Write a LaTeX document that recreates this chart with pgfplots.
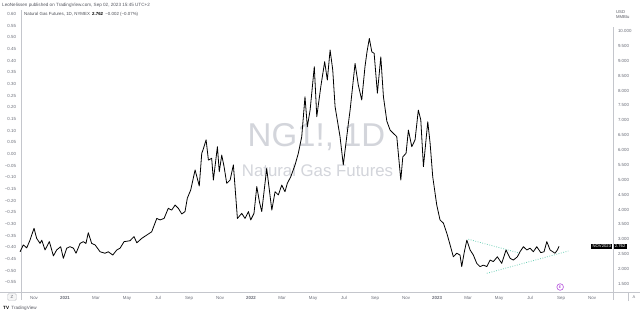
\documentclass[border=0pt]{standalone}
\usepackage{pgfplots}
\pgfplotsset{compat=1.18}
\usepackage{fontspec}
\setmainfont{Liberation Sans}
\definecolor{tvgray}{HTML}{6A6D78}
\definecolor{tvline}{HTML}{C4C6CC}
\definecolor{wm}{HTML}{D3D5DB}
\definecolor{trend}{HTML}{6FD0B8}
\definecolor{evpurple}{HTML}{B44FDC}
\newcommand{\tk}{\fontsize{4.4bp}{5bp}\selectfont}
\begin{document}
\begin{tikzpicture}[x=1bp,y=1bp]
\fill[white] (0,0) rectangle (640,314);
\path[use as bounding box] (0,0) rectangle (640,314);
% watermark
\node[anchor=base, text=wm, font=\fontsize{33bp}{33bp}\selectfont, inner sep=0] at (316.5,168) {NG1!, 1D};
\node[anchor=base, text=wm, font=\fontsize{16.8bp}{17bp}\selectfont, inner sep=0] at (317.5,138) {Natural Gas Futures};
% frame lines
\draw[tvline, line width=0.6bp] (0,22) -- (640,22);
\draw[tvline, line width=0.6bp] (21,304) -- (21,14);
\draw[tvline, line width=0.6bp] (613,287) -- (613,14);
% left scale
\begin{axis}[at={(21bp,22bp)}, anchor=south west, width=592bp, height=282bp, scale only axis,
  xmin=-2.84, xmax=35.35, ymin=-0.5915, ymax=0.617,
  axis line style={draw=none}, xtick=\empty, major tick length=0,
  ytick={-0.55,-0.50,-0.45,-0.40,-0.35,-0.30,-0.25,-0.20,-0.15,-0.10,-0.05,0,0.05,0.10,0.15,0.20,0.25,0.30,0.35,0.40,0.45,0.50,0.55,0.60},
  yticklabels={−0.55,−0.50,−0.45,−0.40,−0.35,−0.30,−0.25,−0.20,−0.15,−0.10,−0.05,0.00,0.05,0.10,0.15,0.20,0.25,0.30,0.35,0.40,0.45,0.50,0.55,0.60},
  yticklabel pos=left,
  yticklabel style={font=\tk, text=tvgray, xshift=-1.5bp},
]
\end{axis}
% price scale
\begin{axis}[at={(21bp,22bp)}, anchor=south west, width=592bp, height=282bp, scale only axis,
  xmin=-2.84, xmax=35.35, ymin=1.227, ymax=10.706,
  axis line style={draw=none}, major tick length=0, clip=false,
  xtick={-2,0,2,4,6,8,10,12,14,16,18,20,22,24,26,28,30,32,34},
  xticklabels={Nov,\textbf{2021},Mar,May,Jul,Sep,Nov,\textbf{2022},Mar,May,Jul,Sep,Nov,\textbf{2023},Mar,May,Jul,Sep,Nov},
  xticklabel style={font=\tk, text=tvgray, yshift=-1bp},
  ytick={1.5,2,2.5,3,3.5,4,4.5,5,5.5,6,6.5,7,7.5,8,8.5,9,9.5,10},
  yticklabels={1.500,2.000,2.500,3.000,3.500,4.000,4.500,5.000,5.500,6.000,6.500,7.000,7.500,8.000,8.500,9.000,9.500,10.000},
  yticklabel pos=right,
  yticklabel style={font=\tk, text=tvgray, xshift=1.5bp},
]
\addplot[trend, line width=0.8bp, dash pattern=on 0.8bp off 1.6bp] coordinates {(26.02,3.00) (29.35,2.53)};
\addplot[trend, line width=0.8bp, dash pattern=on 0.8bp off 1.6bp] coordinates {(27.21,1.855) (32.47,2.605)};
\addplot[black, line width=0.8bp, line join=round] coordinates {
(-2.90,2.58) (-2.69,2.81) (-2.47,2.71) (-2.26,2.97) (-2.00,3.37) (-1.83,3.03) (-1.61,2.86) (-1.50,2.97)
(-1.29,2.64) (-1.01,2.92) (-0.75,2.44) (-0.54,2.64) (-0.28,2.75) (-0.11,2.36) (0.11,2.70) (0.32,2.75)
(0.54,2.70) (0.71,2.53) (0.97,2.86) (1.18,2.92) (1.35,2.86) (1.50,3.22) (1.72,2.86) (1.94,2.81)
(2.26,2.58) (2.58,2.53) (2.79,2.58) (3.08,2.47) (3.34,2.64) (3.55,2.70) (3.81,2.92) (4.19,2.95)
(4.45,3.09) (4.63,2.88) (4.95,3.03) (5.27,3.14) (5.59,3.25) (5.92,3.70) (6.13,3.65) (6.39,3.70)
(6.66,4.04) (6.88,3.98) (7.10,4.15) (7.31,4.04) (7.53,3.85) (7.74,3.93) (7.89,4.38) (8.11,4.66)
(8.39,5.33) (8.66,4.79) (8.82,5.89) (8.90,6.00) (9.10,6.34) (9.25,5.66) (9.46,5.72) (9.57,4.99)
(9.83,6.11) (9.95,5.27) (10.11,5.83) (10.26,5.44) (10.43,4.88) (10.65,4.99) (10.86,5.50) (11.12,3.70)
(11.40,3.87) (11.61,3.70) (11.83,3.93) (11.98,3.65) (12.19,3.87) (12.37,4.77) (12.54,4.26) (12.69,3.93)
(13.01,5.38) (13.34,3.98) (13.55,4.60) (13.76,4.49) (13.98,4.82) (14.19,4.60) (14.34,4.88) (14.56,5.10)
(14.84,5.50) (15.05,5.89) (15.27,6.45) (15.48,7.79) (15.63,6.78) (15.81,7.34) (16.08,8.80) (16.24,7.12)
(16.50,8.13) (16.75,8.97) (16.92,8.35) (17.10,9.36) (17.27,8.69) (17.42,7.46) (17.74,6.45) (17.95,5.50)
(18.28,6.90) (18.39,7.34) (18.71,8.91) (18.92,8.18) (19.14,7.68) (19.35,8.80) (19.48,9.30) (19.63,9.75)
(19.79,9.30) (19.94,9.25) (20.15,7.91) (20.37,9.13) (20.54,7.79) (20.76,6.97) (20.97,6.67) (21.18,6.56)
(21.40,6.45) (21.66,4.99) (21.79,5.77) (22.00,5.89) (22.15,6.67) (22.37,6.11) (22.58,6.34) (22.79,7.34)
(22.95,7.01) (23.12,5.44) (23.40,6.95) (23.55,6.23) (23.72,5.10) (23.98,4.15) (24.19,3.65) (24.41,3.54)
(24.63,3.20) (24.84,2.81) (25.05,2.41) (25.27,2.53) (25.48,2.47) (25.59,2.08) (25.76,2.58) (25.92,2.97)
(26.13,2.64) (26.34,2.47) (26.56,2.19) (26.77,2.08) (26.99,2.13) (27.21,2.08) (27.42,2.30) (27.63,2.25)
(27.89,2.41) (28.17,2.19) (28.45,2.64) (28.71,2.36) (28.92,2.30) (29.18,2.41) (29.35,2.58) (29.57,2.75)
(29.79,2.64) (30.00,2.70) (30.21,2.58) (30.43,2.75) (30.69,2.55) (30.90,2.58) (31.08,2.92) (31.29,2.64)
(31.46,2.58) (31.61,2.53) (31.76,2.64) (31.87,2.762)
};
\addplot[evpurple, only marks, mark=o, mark size=3.3bp, line width=0.6bp] coordinates {(31.94,1.395)};
\end{axis}
% header and legend
\node[anchor=west, text=tvgray!80!black, font=\fontsize{4.6bp}{5bp}\selectfont, inner sep=0] at (2,309) {LeoNelissen published on TradingView.com, Sep 02, 2023 15:45 UTC+2};
\node[anchor=west, font=\fontsize{4.4bp}{5bp}\selectfont, inner sep=0] at (24,299.5) {\textcolor{tvgray!70!black}{Natural Gas Futures, 1D, NYMEX}\enspace\textbf{2.762}\enspace\textcolor{tvgray!70!black}{−0.002 (−0.07\%)}};
\node[anchor=west, text=tvgray!80!black, font=\fontsize{4.2bp}{5bp}\selectfont, inner sep=0] at (616,302) {USD};
\node[anchor=west, text=tvgray!80!black, font=\fontsize{4.2bp}{5bp}\selectfont, inner sep=0] at (616,296.5) {MMBtu};
% last price labels
\node[fill=black, text=white, font=\fontsize{4.2bp}{5bp}\selectfont, inner xsep=1.2bp, inner ysep=0.9bp, anchor=east] at (612.5,67.5) {NOV2023};
\node[fill=black, text=white, font=\fontsize{4.2bp}{5bp}\selectfont, inner xsep=1.2bp, inner ysep=0.9bp, anchor=west] at (613.5,67.5) {2.762};
\node[text=evpurple, font=\fontsize{3.5bp}{4bp}\selectfont\bfseries, inner sep=0] at (560,27) {E};
% bottom controls
\draw[tvline, fill=gray!8, rounded corners=1.5bp] (7.5,13.5) rectangle (16.5,20.5);
\node[text=tvgray, font=\fontsize{4.4bp}{5bp}\selectfont, inner sep=0] at (12,17) {Z};
\draw[tvline] (628,13) -- (628,21);
\node[text=tvgray, font=\fontsize{4bp}{5bp}\selectfont, inner sep=0] at (634,17) {A};
\node[anchor=west, font=\fontsize{4.6bp}{5bp}\selectfont, inner sep=0] at (3,6) {\textbf{TV}\enspace\textcolor{tvgray!80!black}{TradingView}};
\end{tikzpicture}
\end{document}
